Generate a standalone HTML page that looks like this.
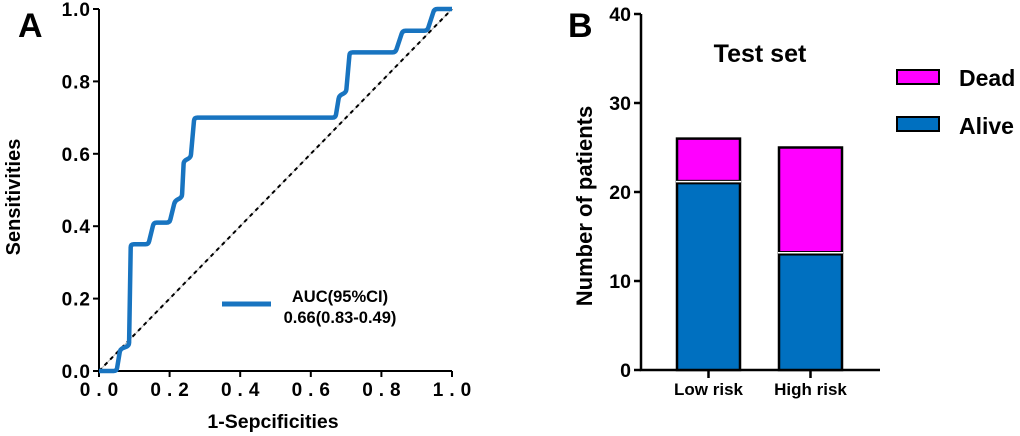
<!DOCTYPE html>
<html><head><meta charset="utf-8"><style>
body{margin:0;background:#fff;}
svg{display:block;font-family:"Liberation Sans",Arial,sans-serif;font-weight:bold;}
</style></head><body>
<svg id="c" width="1020" height="436" viewBox="0 0 1020 436">
<text x="18" y="37" font-size="34">A</text>
<text x="568" y="37" font-size="34">B</text>
<g id="roc"></g>
<g id="bar"></g>
</svg>
<script>
const rocFpr=[0,0.05,0.06,0.085,0.09,0.14,0.155,0.20,0.215,0.235,0.24,0.26,0.27,0.67,0.68,0.70,0.71,0.84,0.86,0.93,0.95,1.0];
const rocTpr=[0,0,0.06,0.07,0.35,0.35,0.41,0.41,0.47,0.48,0.58,0.59,0.70,0.70,0.76,0.77,0.88,0.88,0.94,0.94,1.0,1.0];
const rocTicks=[0,0.2,0.4,0.6,0.8,1.0];
const rocTickLabels=["0.0","0.2","0.4","0.6","0.8","1.0"];
const barCats=["Low risk","High risk"];
const aliveVals=[21,13];
const deadVals=[5,12];
const barTicks=[0,10,20,30,40];
const NS="http://www.w3.org/2000/svg";
function mk(p,t,a){const e=document.createElementNS(NS,t);for(const k in a)e.setAttribute(k,a[k]);p.appendChild(e);return e;}
// ROC
const R=document.getElementById('roc');
const X0=99,X1=452,Y0=371,Y1=9;
const sx=v=>X0+v*(X1-X0), sy=v=>Y0-v*(Y0-Y1);
let e;
e=mk(R,'line',{x1:sx(0),y1:sy(0),x2:sx(1),y2:sy(1),stroke:'#bbb','stroke-width':1});

e=mk(R,'line',{x1:sx(0),y1:sy(0),x2:sx(1),y2:sy(1),stroke:'#000','stroke-width':2,'stroke-dasharray':'4,4'});

e=mk(R,'path',{d:'M'+X0+' '+Y1+' V'+Y0+' H'+X1,fill:'none',stroke:'#000','stroke-width':2});

rocTicks.forEach((t,i)=>{
  e=mk(R,'line',{x1:X0-6,y1:sy(t),x2:X0,y2:sy(t),stroke:'#000','stroke-width':2});
  
  e=mk(R,'text',{x:X0-8,y:sy(t)+7,'font-size':19,'text-anchor':'end','letter-spacing':'1'});e.textContent=rocTickLabels[i];
  
  e=mk(R,'line',{x1:sx(t),y1:Y0,x2:sx(t),y2:Y0+6,stroke:'#000','stroke-width':2});
  
  e=mk(R,'text',{x:sx(t)+3,y:Y0+25,'font-size':19,'text-anchor':'middle','letter-spacing':'6'});e.textContent=rocTickLabels[i];
  
});
// smoothed step curve: rounded corners via quadratic curves
const pts=rocFpr.map((f,i)=>[sx(f),sy(rocTpr[i])]);
let d='M'+pts[0][0].toFixed(1)+' '+pts[0][1].toFixed(1)+' ';
for(let i=1;i<pts.length-1;i++){
  const p=pts[i],a=pts[i-1],b=pts[i+1];
  const r=3;
  const l1=Math.hypot(p[0]-a[0],p[1]-a[1])||1,l2=Math.hypot(b[0]-p[0],b[1]-p[1])||1;
  const r1=Math.min(r,l1/2),r2=Math.min(r,l2/2);
  const s=[p[0]-(p[0]-a[0])/l1*r1,p[1]-(p[1]-a[1])/l1*r1];
  const t=[p[0]+(b[0]-p[0])/l2*r2,p[1]+(b[1]-p[1])/l2*r2];
  d+='L'+s[0].toFixed(1)+' '+s[1].toFixed(1)+' Q'+p[0].toFixed(1)+' '+p[1].toFixed(1)+' '+t[0].toFixed(1)+' '+t[1].toFixed(1)+' ';
}
const L=pts[pts.length-1];d+='L'+L[0].toFixed(1)+' '+L[1].toFixed(1);
e=mk(R,'path',{d:d,fill:'none',stroke:'#1874c0','stroke-width':4.5,'stroke-linejoin':'round'});

e=mk(R,'text',{x:273,y:428,'font-size':19.5,'text-anchor':'middle'});e.textContent='1-Sepcificities';

e=mk(R,'text',{x:0,y:0,'font-size':20,'text-anchor':'middle',transform:'translate(20,197) rotate(-90)'});e.textContent='Sensitivities';

e=mk(R,'line',{x1:222,y1:304,x2:271,y2:304,stroke:'#1874c0','stroke-width':5});

e=mk(R,'text',{x:340,y:302,'font-size':16.5,'text-anchor':'middle'});e.textContent='AUC(95%CI)';

e=mk(R,'text',{x:340,y:323,'font-size':16.5,'text-anchor':'middle'});e.textContent='0.66(0.83-0.49)';

// Bar
const B=document.getElementById('bar');
const BX0=641,BX1=880,BY0=370,BY1=14;
const by=v=>BY0-v/40*(BY0-BY1);
const centers=[708.5,810.5],bw=63;
e=mk(B,'path',{d:'M'+BX0+' '+BY1+' V'+BY0+' H'+BX1,fill:'none',stroke:'#000','stroke-width':2.5});

barTicks.forEach(t=>{
  e=mk(B,'line',{x1:BX0-7,y1:by(t),x2:BX0,y2:by(t),stroke:'#000','stroke-width':2.5});
  
  e=mk(B,'text',{x:BX0-10,y:by(t)+7,'font-size':19.5,'text-anchor':'end'});e.textContent=t;
  
});
barCats.forEach((c,i)=>{
  const cx=centers[i];
  e=mk(B,'rect',{x:cx-bw/2,y:by(aliveVals[i]),width:bw,height:by(0)-by(aliveVals[i]),fill:'#0070c0',stroke:'#000','stroke-width':2.5});
  
  e=mk(B,'rect',{x:cx-bw/2,y:by(aliveVals[i]+deadVals[i]),width:bw,height:by(aliveVals[i])-by(aliveVals[i]+deadVals[i])-2,fill:'#ff00ff',stroke:'#000','stroke-width':2.5});
  
  e=mk(B,'line',{x1:cx-bw/2-1,y1:by(aliveVals[i])-1.5,x2:cx+bw/2+1,y2:by(aliveVals[i])-1.5,stroke:'#fff','stroke-width':1.5});
  
  e=mk(B,'line',{x1:cx,y1:BY0,x2:cx,y2:BY0+8,stroke:'#000','stroke-width':2.5});
  
  e=mk(B,'text',{x:cx,y:BY0+25,'font-size':17,'text-anchor':'middle'});e.textContent=c;
  
});
e=mk(B,'text',{x:760,y:62,'font-size':25,'text-anchor':'middle','xml:space':'preserve'});e.textContent='Test  set';

e=mk(B,'text',{x:0,y:0,'font-size':22,'text-anchor':'middle',transform:'translate(592,206) rotate(-90)'});e.textContent='Number of patients';

e=mk(B,'rect',{x:897,y:70,width:42,height:14,fill:'#ff00ff',stroke:'#000','stroke-width':2});

e=mk(B,'text',{x:959,y:86,'font-size':23});e.textContent='Dead';

e=mk(B,'rect',{x:897,y:117,width:42,height:14,fill:'#0070c0',stroke:'#000','stroke-width':2});

e=mk(B,'text',{x:959,y:134,'font-size':23});e.textContent='Alive';

</script>
</body></html>
